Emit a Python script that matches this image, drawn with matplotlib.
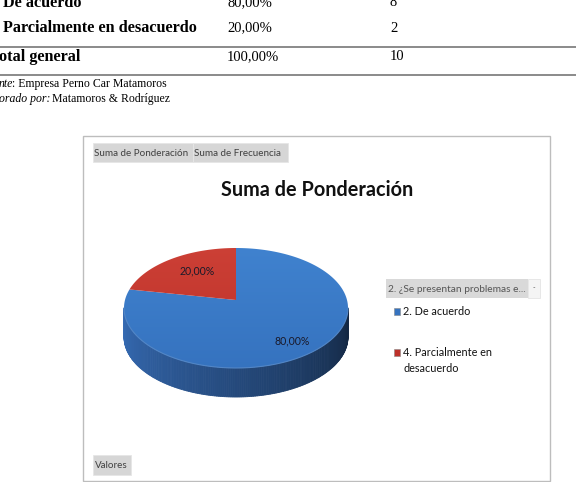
import numpy as np
import matplotlib.pyplot as plt
from matplotlib.patches import Polygon, Rectangle

# table rows visible at the top of the scanned page
row_names = ["De acuerdo", "Parcialmente en desacuerdo", "otal general"]
row_pct = ["80,00%", "20,00%", "100,00%"]
row_freq = ["8", "2", "10"]

# pie chart
categories = ["2. De acuerdo", "4. Parcialmente en\ndesacuerdo"]
shares = [80.0, 20.0]
pct_labels = ["80,00%", "20,00%"]

title = "Suma de Ponderación"
legend_title = "2. ¿Se presentan problemas e..."

top_light = [(0.25, 0.51, 0.81), (0.80, 0.25, 0.21)]
top_dark = [(0.21, 0.45, 0.75), (0.74, 0.19, 0.16)]
side_col = [(0.19, 0.38, 0.64), (0.55, 0.14, 0.12)]

W, H = 576, 482
fig = plt.figure(figsize=(W / 100, H / 100), dpi=100)
ax = fig.add_axes([0, 0, 1, 1])
ax.set_xlim(0, W)
ax.set_ylim(H, 0)
ax.axis("off")

serif = "Liberation Serif"
ui = "Lato"

# ---- table part of the page
ys = [3, 28, 57]
for i in range(3):
    ax.text(3 if i < 2 else -1, ys[i], row_names[i], family=serif, weight="bold",
            fontsize=11.7, va="center", ha="left")
    ax.text(227, ys[i], row_pct[i], family=serif, fontsize=10.5, va="center")
    ax.text(390, ys[i], row_freq[i], family=serif, fontsize=10.5, va="center")
ax.plot([0, W], [46.5, 46.5], color="#8a8a8a", lw=1.4)
ax.plot([0, W], [74.5, 74.5], color="#8a8a8a", lw=1.4)
ax.text(-1, 84, "nte", family=serif, style="italic", fontsize=8.5, va="center")
ax.text(12, 84, ": Empresa Perno Car Matamoros", family=serif, fontsize=8.5, va="center")
ax.text(-1, 99, "orado por:", family=serif, style="italic", fontsize=8.5, va="center")
ax.text(52, 99, "Matamoros & Rodríguez", family=serif, fontsize=8.5, va="center")

# ---- chart frame
ax.add_patch(Rectangle((83, 136), 467, 345, fill=False, ec="#bdbdbd", lw=1))


def button(x0, y0, w, h, label, fs=7.1):
    ax.add_patch(Rectangle((x0, y0), w, h, fc="#d6d6d6", ec="#e6e6e6", lw=0.6))
    ax.text(x0 + 1.5, y0 + h / 2 + 0.5, label, family=ui, fontsize=fs,
            color="#404040", va="center", ha="left")


button(93, 143, 100, 19, "Suma de Ponderación")
button(193, 143, 95, 19, "Suma de Frecuencia")
button(93, 455, 38, 20, "Valores")

ax.text(317, 190, title, family=ui, weight="bold", fontsize=14.3,
        ha="center", va="center", color="#111111")

# ---- 3D pie
cx, cy, rx, ry, depth = 236, 308, 112, 60, 29
ax_x, ax_y = cx, cy - 8   # apex of the wedges (perspective)


def rim(t):
    r = np.radians(t)
    return cx + rx * np.cos(r), cy - ry * np.sin(r)


bounds = 90 - np.concatenate([[0], np.cumsum(shares)]) / sum(shares) * 360

# side wall (front half)
for i in range(len(shares)):
    a0, a1 = bounds[i], bounds[i + 1]
    ts = np.arange(a1, a0, 1.0)
    for t in ts:
        tm = (t + 0.5) % 360
        if tm < 180:
            continue
        f = 1.12 - 0.72 * (tm - 180) / 180
        c = tuple(min(1, v * f) for v in side_col[i])
        x1, y1 = rim(t)
        x2, y2 = rim(min(t + 1.0, a0))
        ax.add_patch(Polygon([(x1, y1), (x2, y2), (x2, y2 + depth), (x1, y1 + depth)],
                             closed=True, fc=c, ec=c, lw=0.6))

# top faces with a vertical gradient
grad = np.linspace(0, 1, 200)[:, None]
for i in range(len(shares)):
    a0, a1 = bounds[i], bounds[i + 1]
    ts = np.linspace(a0, a1, 200)
    xs, ys_ = rim(ts)
    pts = [(ax_x, ax_y)] + list(zip(xs, ys_))
    poly = Polygon(pts, closed=True, fc="none", ec="none")
    ax.add_patch(poly)
    img = np.zeros((200, 1, 3))
    for k in range(3):
        img[:, 0, k] = top_light[i][k] + (top_dark[i][k] - top_light[i][k]) * grad[:, 0]
    im = ax.imshow(img, extent=(cx - rx, cx + rx, cy + ry, cy - ry),
                   aspect="auto", interpolation="bilinear", zorder=2)
    im.set_clip_path(poly)

# light rim on the front edge
tf = np.linspace(180, 360, 200)
rxs, rys = rim(tf)
ax.plot(rxs, rys, color="#5286c6", lw=0.8, zorder=3)

label_r = [0.85, 0.59]
for i in range(len(shares)):
    mid = np.radians((bounds[i] + bounds[i + 1]) / 2)
    lx = ax_x + rx * label_r[i] * np.cos(mid)
    ly = ax_y - ry * label_r[i] * np.sin(mid)
    ax.text(lx, ly, pct_labels[i], family=ui, fontsize=7.6, color="#1a1a2a",
            ha="center", va="center", zorder=4)

# ---- legend
ax.add_patch(Rectangle((386, 279), 142, 19, fc="#d9d9d9", ec="none"))
ax.add_patch(Rectangle((528, 279), 12, 19, fc="#f4f4f4", ec="#e0e0e0", lw=0.5))
ax.text(388, 289, legend_title, family=ui, fontsize=7.3, color="#555555", va="center")
ax.text(534, 288, "-", family=ui, fontsize=5, color="#555555", va="center", ha="center")

leg_y = [311, 352]
for i in range(len(categories)):
    ax.add_patch(Rectangle((394, leg_y[i] - 3.5), 6, 7, fc=top_dark[i], ec="#888888", lw=0.4))
    ax.text(403, leg_y[i] - 5, categories[i], family=ui, fontsize=7.8, color="#111111",
            va="top", ha="left", linespacing=1.55)

fig.savefig("out.png", dpi=100)
